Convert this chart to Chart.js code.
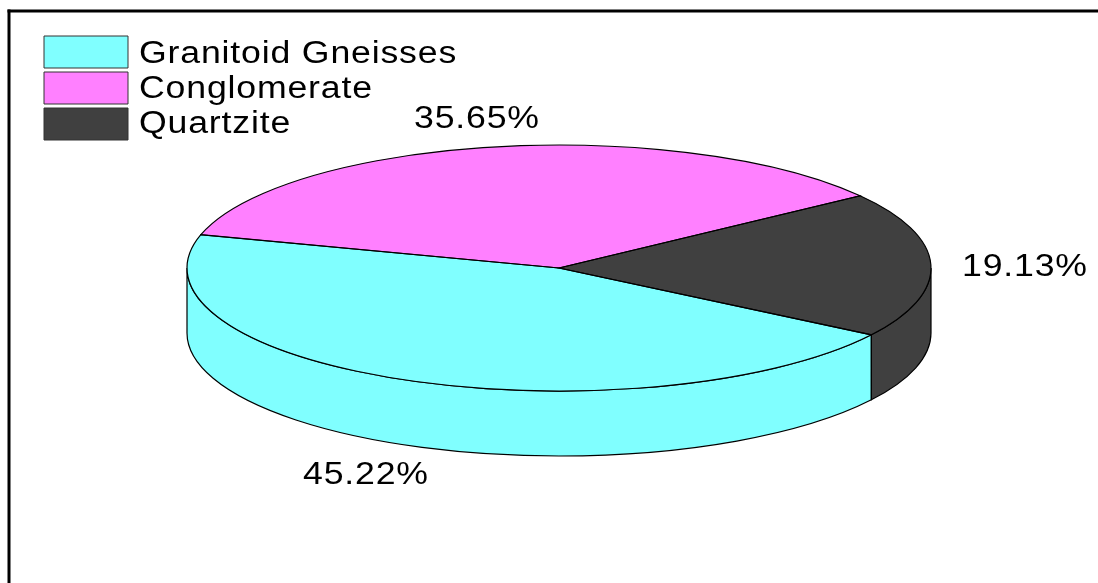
<!DOCTYPE html>
<html>
<head>
<meta charset="utf-8">
<title>Rock types</title>
<script src="https://cdn.jsdelivr.net/npm/chart.js@4"></script>
<style>
  html, body { margin: 0; background: #fff; }
  canvas { display: block; }
</style>
</head>
<body>
<canvas id="pieChart" width="1098" height="583"></canvas>
<script>
var rockTypes = ['Granitoid Gneisses', 'Conglomerate', 'Quartzite'];
var rockShares = [45.22, 35.65, 19.13];
var rockColors = ['#80ffff', '#ff80ff', '#404040'];

// tilted disc, in pixels
var discX = 372, discY = 123, discDepth = 65;
var fontName = '"Liberation Sans", Arial, sans-serif';

// left edge and baseline of each percentage
var shareSpots = [[303, 483.5], [414, 127.5], [962, 275.5]];

// Canvas text, a little wider and more open than the plain font
function wideText(ctx, text, x, y) {
  ctx.save();
  ctx.translate(x, y);
  ctx.scale(1.15, 1);
  ctx.font = '31px ' + fontName;
  ctx.letterSpacing = '0.72px';
  ctx.fillStyle = '#000';
  ctx.textAlign = 'left';
  ctx.textBaseline = 'alphabetic';
  ctx.fillText(text, 0, 0);
  ctx.restore();
}

// Clamp a slice to the front half of the disc, where the wall shows
function frontPart(start, end) {
  var parts = [];
  [0, 2 * Math.PI, -2 * Math.PI].forEach(function (shift) {
    var a = Math.max(start, shift), b = Math.min(end, shift + Math.PI);
    if (b > a) parts.push([a, b]);
  });
  return parts;
}

var tiltedPie = {
  id: 'tiltedPie',
  afterLayout: function (chart) {
    // a vertical legend ignores the chart area's top edge, so set it here
    chart.legend.top = chart.chartArea.top;
    chart.legend.bottom = chart.chartArea.bottom;
    chart.legend.adjustHitBoxes();
  },
  beforeDatasetsDraw: function (chart) {
    var ctx = chart.ctx;
    var arcs = chart.getDatasetMeta(0).data;
    var cx = arcs[0].x, cy = arcs[0].y;

    // wall below the top face
    arcs.forEach(function (arc, i) {
      frontPart(arc.startAngle, arc.endAngle).forEach(function (p) {
        ctx.beginPath();
        ctx.ellipse(cx, cy, discX, discY, 0, p[0], p[1]);
        ctx.ellipse(cx, cy + discDepth, discX, discY, 0, p[1], p[0], true);
        ctx.closePath();
        ctx.fillStyle = rockColors[i];
        ctx.fill();
        ctx.strokeStyle = '#000';
        ctx.lineWidth = 1.2;
        ctx.stroke();
      });
    });

    // squash the round pie into the top face
    ctx.save();
    ctx.translate(cx, cy);
    ctx.scale(discX / arcs[0].outerRadius, discY / arcs[0].outerRadius);
    ctx.translate(-cx, -cy);
  },
  afterDatasetsDraw: function (chart) {
    var ctx = chart.ctx;
    ctx.restore();

    var arcs = chart.getDatasetMeta(0).data;
    var cx = arcs[0].x, cy = arcs[0].y;
    ctx.strokeStyle = '#000';
    ctx.lineWidth = 1.2;
    arcs.forEach(function (arc) {
      ctx.beginPath();
      ctx.moveTo(cx, cy);
      ctx.ellipse(cx, cy, discX, discY, 0, arc.startAngle, arc.endAngle);
      ctx.closePath();
      ctx.stroke();
    });

    rockShares.forEach(function (share, i) {
      wideText(ctx, share.toFixed(2) + '%', shareSpots[i][0], shareSpots[i][1]);
    });

    // legend names sit beside the library's swatches
    chart.legend.legendHitBoxes.forEach(function (box, i) {
      wideText(ctx, rockTypes[i], chart.chartArea.left + 99, box.top + box.height / 2 + 11 - i);
    });
  },
  afterDraw: function (chart) {
    // frame along the top and left
    var ctx = chart.ctx;
    ctx.fillStyle = '#000';
    ctx.fillRect(7.5, 9.5, 1091, 3);
    ctx.fillRect(7.5, 9.5, 3, 574);
  }
};

new Chart(document.getElementById('pieChart').getContext('2d'), {
  type: 'pie',
  data: {
    labels: rockTypes,
    datasets: [{
      data: rockShares,
      backgroundColor: rockColors,
      borderWidth: 0
    }]
  },
  options: {
    responsive: false,
    animation: false,
    rotation: 122.9,
    layout: { padding: { left: 40, top: 32, right: 20, bottom: 79 } },
    plugins: {
      tooltip: { enabled: false },
      legend: {
        position: 'chartArea',
        align: 'start',
        labels: {
          boxWidth: 84,
          boxHeight: 32,
          padding: 4,
          font: { size: 31, family: fontName, lineHeight: 1 },
          generateLabels: function (chart) {
            return rockTypes.map(function (name, i) {
              return { text: '', fillStyle: rockColors[i], strokeStyle: '#333', lineWidth: 1, index: i };
            });
          }
        }
      }
    }
  },
  plugins: [tiltedPie]
});
</script>
</body>
</html>
